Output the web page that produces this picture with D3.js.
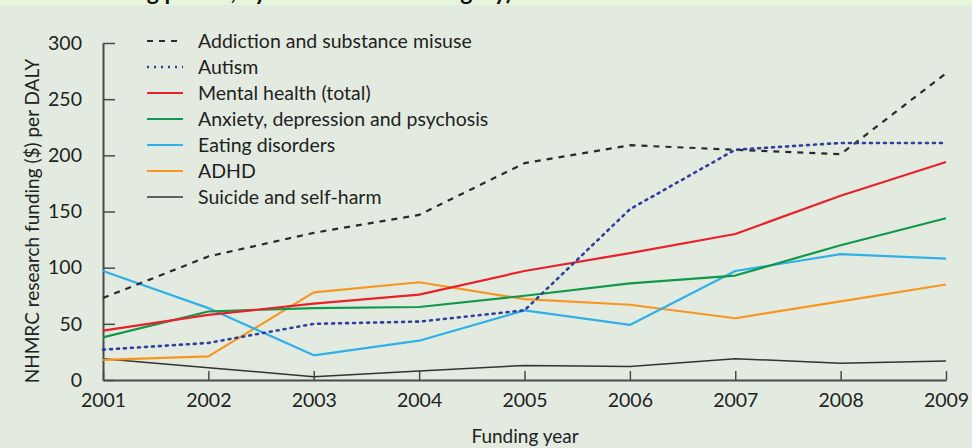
<!DOCTYPE html>
<html>
<head>
<meta charset="utf-8">
<script src="https://cdn.jsdelivr.net/npm/d3@7"></script>
<style>
  body { margin: 0; background: #e3ebe0; }
  svg { display: block; font-family: Lato, "Open Sans", sans-serif; }
</style>
</head>
<body>
<svg id="chart" width="972" height="448"></svg>
<script>
const years = [2001, 2002, 2003, 2004, 2005, 2006, 2007, 2008, 2009];
const yTicks = [0, 50, 100, 150, 200, 250, 300];

const addiction = [73, 110, 131, 147, 193, 209, 205, 201, 273];
const autism = [27, 33, 50, 52, 62, 152, 205, 211, 211];
const mentalHealth = [44, 58, 68, 76, 97, 113, 130, 164, 194];
const anxiety = [38, 61, 64, 65, 75, 86, 93, 120, 144];
const eating = [97, 64, 22, 35, 62, 49, 97, 112, 108];
const adhd = [18, 21, 78, 87, 72, 67, 55, 70, 85];
const suicide = [19, 11, 3, 8, 13, 12, 19, 15, 17];

const seriesNames = ["Addiction and substance misuse", "Autism", "Mental health (total)",
  "Anxiety, depression and psychosis", "Eating disorders", "ADHD", "Suicide and self-harm"];

const series = [
  { name: seriesNames[0], values: addiction, color: "#2a2a2a", width: 2.2, dash: "6,6" },
  { name: seriesNames[1], values: autism, color: "#2e3f9c", width: 2.6, dash: "2,5" },
  { name: seriesNames[2], values: mentalHealth, color: "#e8212b", width: 2.2, dash: null },
  { name: seriesNames[3], values: anxiety, color: "#11984a", width: 2.2, dash: null },
  { name: seriesNames[4], values: eating, color: "#2fb0e6", width: 2.2, dash: null },
  { name: seriesNames[5], values: adhd, color: "#f7961f", width: 2.2, dash: null },
  { name: seriesNames[6], values: suicide, color: "#333333", width: 1.5, dash: null }
];

const fs = 19.5;
const svg = d3.select("#chart");

// top band with the cut-off title
svg.append("rect").attr("x", 0).attr("y", 0).attr("width", 972).attr("height", 5).attr("fill", "#e6f5dc");
svg.append("text")
  .attr("x", 512).attr("y", 0)
  .attr("text-anchor", "end")
  .attr("font-size", 23).attr("font-weight", "bold").attr("fill", "#111")
  .text("ding period, by mental health category)");

const x = d3.scaleLinear().domain([2001, 2009]).range([103, 946]);
const y = d3.scaleLinear().domain([0, 300]).range([380, 43]);

const axisColor = "#4a4a4a";

// y axis
const yAxis = svg.append("g")
  .attr("transform", "translate(103,0)")
  .call(d3.axisLeft(y).tickValues(yTicks).tickSize(-12).tickPadding(10).tickSizeOuter(0));
yAxis.select(".domain").attr("stroke", axisColor).attr("stroke-width", 2);
yAxis.selectAll(".tick line").attr("stroke", axisColor).attr("stroke-width", 1.5);
yAxis.selectAll(".tick text").attr("font-size", fs).attr("fill", "#222").attr("font-family", "Lato, sans-serif")
  .attr("dx", -11);

// x axis
const xAxis = svg.append("g")
  .attr("transform", "translate(0,380)")
  .call(d3.axisBottom(x).tickValues(years).tickFormat(d3.format("d")).tickSize(-9).tickPadding(13).tickSizeOuter(0));
xAxis.select(".domain").attr("stroke", axisColor).attr("stroke-width", 2);
xAxis.selectAll(".tick line").attr("stroke", axisColor).attr("stroke-width", 1.5);
xAxis.selectAll(".tick text").attr("font-size", fs).attr("fill", "#222").attr("font-family", "Lato, sans-serif");

// axis titles
svg.append("text")
  .attr("transform", "translate(39,221) rotate(-90)")
  .attr("text-anchor", "middle")
  .attr("font-size", 19).attr("fill", "#222")
  .text("NHMRC research funding ($) per DALY");

svg.append("text")
  .attr("x", 525).attr("y", 443)
  .attr("text-anchor", "middle")
  .attr("font-size", 19).attr("fill", "#222")
  .text("Funding year");

// lines
const line = d3.line().x((d, i) => x(years[i])).y(d => y(d));

const order = [6, 5, 4, 3, 2, 0, 1];
order.forEach(i => {
  const s = series[i];
  svg.append("path")
    .datum(s.values)
    .attr("d", line)
    .attr("fill", "none")
    .attr("stroke", s.color)
    .attr("stroke-width", s.width)
    .attr("stroke-dasharray", s.dash)
    .attr("stroke-linecap", s.dash && s.dash.startsWith("2") ? "round" : "butt")
    .attr("stroke-linejoin", "round");
});

// legend
const legend = svg.append("g").attr("transform", "translate(147,41)");
series.forEach((s, i) => {
  const g = legend.append("g").attr("transform", `translate(0,${i * 26})`);
  g.append("line")
    .attr("x1", 0).attr("x2", 36).attr("y1", 0).attr("y2", 0)
    .attr("stroke", s.color)
    .attr("stroke-width", s.width)
    .attr("stroke-dasharray", s.dash);
  g.append("text")
    .attr("x", 51).attr("y", 0).attr("dy", "0.35em")
    .attr("font-size", fs).attr("fill", "#222")
    .text(s.name);
});
</script>
</body>
</html>
